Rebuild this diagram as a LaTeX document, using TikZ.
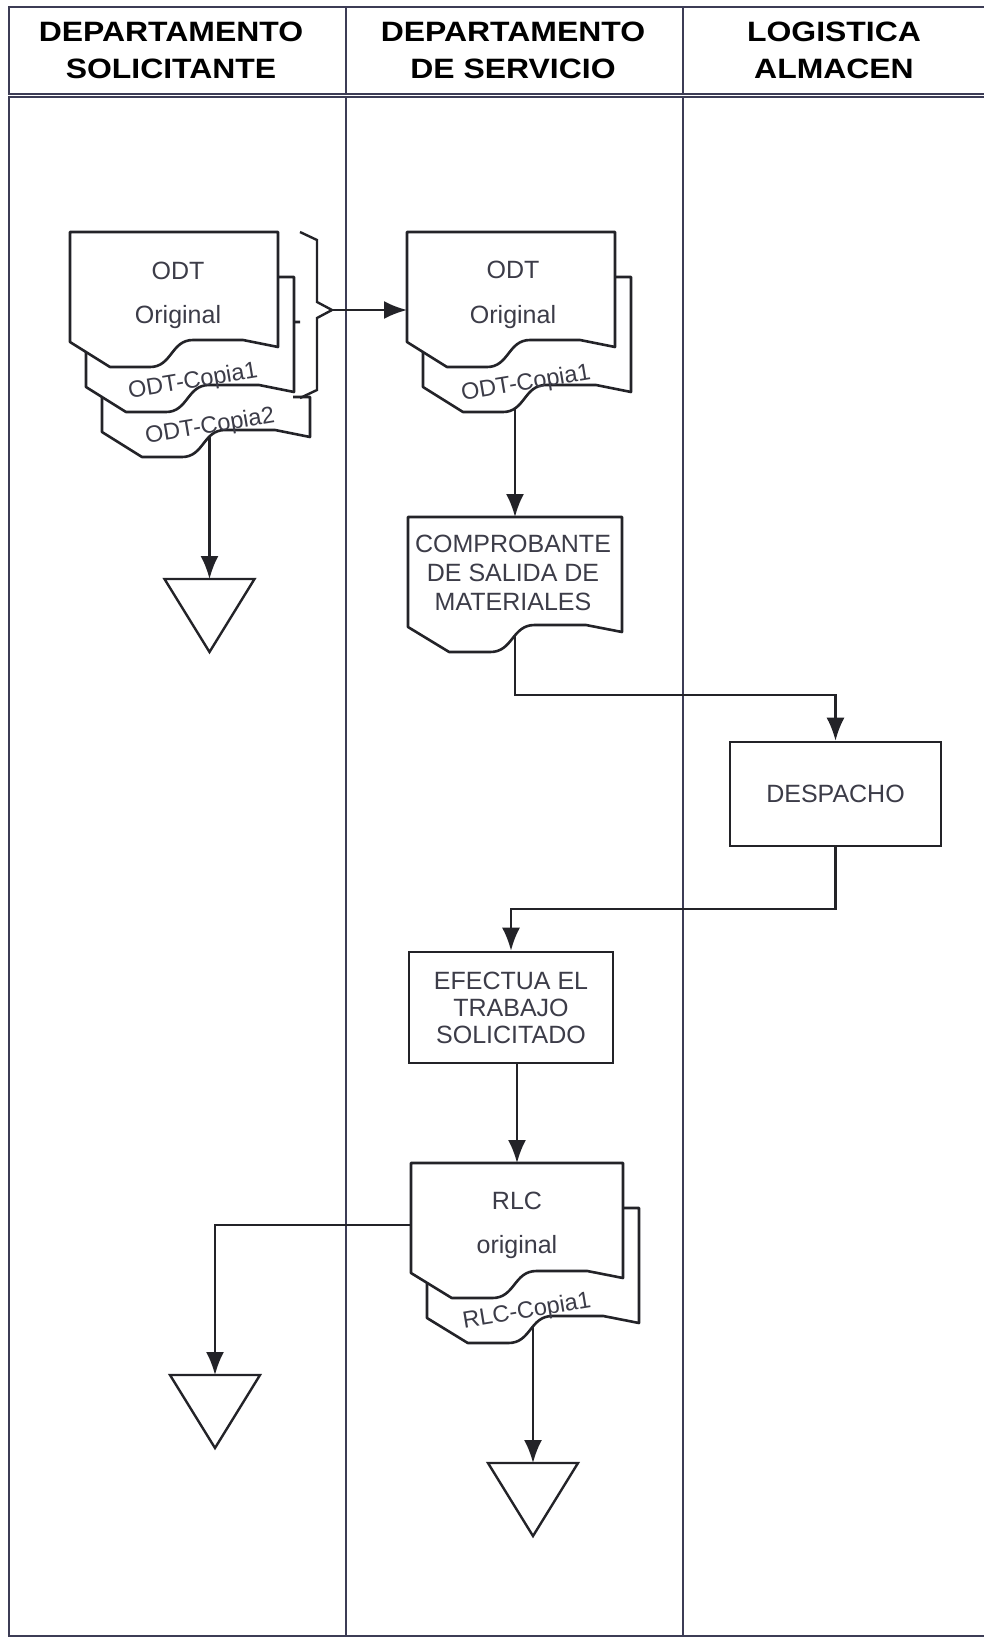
\documentclass[tikz,border=0pt]{standalone}
\usepackage{fontspec}
\setmainfont{Liberation Sans}
\newfontfamily\headfont[FakeStretch=1.14]{Liberation Sans Bold}
\usetikzlibrary{arrows.meta,backgrounds}
\definecolor{lanecol}{RGB}{60,60,85}
\definecolor{inkcol}{RGB}{35,35,40}
\definecolor{textcol}{RGB}{60,60,72}
\tikzset{
  laneline/.style={draw=lanecol, line width=2pt},
  sheet/.style={draw=inkcol, fill=white, line width=2.6pt, line join=round},
  braceline/.style={draw=inkcol, line width=2.4pt},
  termline/.style={draw=inkcol, fill=white, line width=2.4pt},
  flow/.style={draw=inkcol, line width=2.2pt, -{Latex[length=23pt,width=18pt]}},
  lanehead/.style={font=\headfont\fontsize{28}{37}\selectfont, align=center, inner sep=0pt},
  doctext/.style={font=\fontsize{25}{29}\selectfont, text=textcol, inner sep=0pt},
  copytext/.style={doctext, font=\fontsize{23.5}{28}\selectfont, rotate=9.5},
  procbox/.style={draw=inkcol, fill=white, line width=2.6pt, align=center, inner sep=0pt,
    font=\fontsize{25}{27}\selectfont, text=textcol},
  docsheet/.pic={
    \path[sheet] (0,0) -- (208,0) -- (208,115) -- (173,108) -- (123,108)
      .. controls (101,108) and (102,135) .. (80,135) -- (40,135) -- (0,110) -- cycle;
    \coordinate (-top) at (104,0);
    \coordinate (-bot) at (104,112);
    \coordinate (-west) at (0,62);
  },
  docback/.pic={
    \fill[white] (0,0) -- (208,0) -- (208,115) -- (173,108) -- (123,108)
      .. controls (101,108) and (102,135) .. (80,135) -- (40,135) -- (0,110) -- cycle;
    \draw[sheet, fill=none] (198,0) -- (0,0) -- (0,110) -- (40,135) -- (80,135)
      .. controls (102,135) and (101,108) .. (123,108) -- (173,108) -- (208,115) -- (208,75) -- (191,75);
    \coordinate (-bot) at (104,112);
  },
  endmark/.pic={
    \draw[termline] (-45,0) -- (45,0) -- (0,73) -- cycle;
    \coordinate (-top) at (0,0);
  },
}
\begin{document}
\begin{tikzpicture}[x=1pt,y=-1pt]
\useasboundingbox (0,0) rectangle (983,1639);
% lanes
\begin{scope}[on background layer]
  \draw[laneline] (9,7) rectangle (992,94);
  \draw[laneline] (9,97) rectangle (992,1636);
  \draw[laneline] (346,7) -- (346,94) (683,7) -- (683,94);
  \draw[laneline] (346,97) -- (346,1636) (683,97) -- (683,1636);
\end{scope}
\node[lanehead] (headA) at (171,50.5) {DEPARTAMENTO\\SOLICITANTE};
\node[lanehead] (headB) at (513,50.5) {DEPARTAMENTO\\DE SERVICIO};
\node[lanehead] (headC) at (834,50.5) {LOGISTICA\\ALMACEN};

% ODT stack, departamento solicitante
\pic (odtAc2) at (102,322) {docback};
\pic (odtAc1) at (86,277) {docsheet};
\pic (odtA) at (70,232) {docsheet};
\node[doctext, anchor=base] (odtAt) at (178,279) {ODT};
\node[doctext, anchor=base] (odtAo) at (178,323) {Original};
\node[copytext] (odtAc1t) at (193,382) {ODT-Copia1};
\node[copytext] (odtAc2t) at (210,427) {ODT-Copia2};
\draw[braceline] (300,232) -- (317,240) -- (317,302) -- (332,310) -- (317,318) -- (317,390) -- (300,398);
\coordinate (brace) at (332,310);
\pic (endA) at (209.5,579) {endmark};

% departamento de servicio
\pic (odtBc1) at (423,277) {docsheet};
\pic (odtB) at (407,232) {docsheet};
\node[doctext, anchor=base] (odtBt) at (513,278) {ODT};
\node[doctext, anchor=base] (odtBo) at (513,323) {Original};
\node[copytext] (odtBc1t) at (526,384) {ODT-Copia1};

\pic[xscale=1.0288] (comp) at (408,517) {docsheet};
\node[doctext, align=center] (compt) at (513,573) {COMPROBANTE\\DE SALIDA DE\\MATERIALES};

\node[procbox, minimum width=211, minimum height=104] (desp) at (835.5,794) {DESPACHO};
\node[procbox, minimum width=204, minimum height=111] (efe) at (511,1007.5) {EFECTUA EL\\TRABAJO\\SOLICITADO};

\pic[xscale=1.0192] (rlcc1) at (427,1208) {docsheet};
\pic[xscale=1.0192] (rlc) at (411,1163) {docsheet};
\node[doctext, anchor=base] (rlct) at (517,1209) {RLC};
\node[doctext, anchor=base] (rlco) at (517,1253) {original};
\node[copytext] (rlcc1t) at (527,1312) {RLC-Copia1};

\pic (endB) at (215,1375) {endmark};
\pic (endC) at (533,1463) {endmark};

% connectors
\begin{scope}[on background layer]
  \draw[flow] (odtAc2-bot -| endA-top) -- (endA-top);
  \draw[flow] (brace) -- (brace -| odtB-west);
  \draw[flow] (odtBc1-bot -| comp-top) -- (comp-top);
  \draw[flow] (comp-bot) -- ++(0,66) -| (desp.north);
  \draw[flow] (desp.south) -- ++(0,62) -| (efe.north);
  \draw[flow] (efe.south -| rlc-top) -- (rlc-top);
  \draw[flow] (rlc-west) -| (endB-top);
  \draw[flow] (rlcc1-bot -| endC-top) -- (endC-top);
\end{scope}
\end{tikzpicture}
\end{document}
